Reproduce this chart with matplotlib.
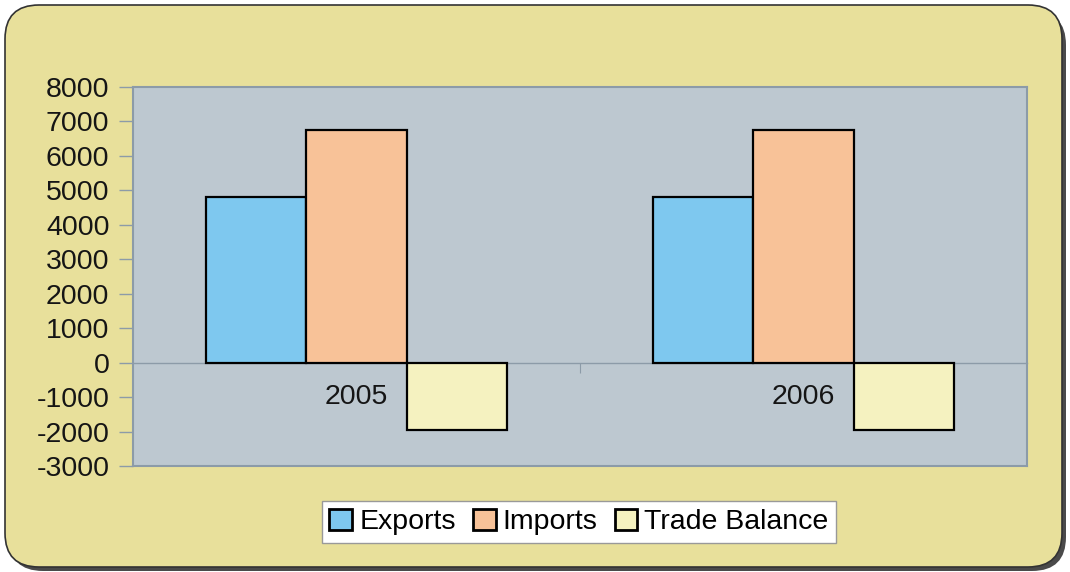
import numpy as np
import matplotlib.pyplot as plt
from matplotlib.patches import FancyBboxPatch

plt.rcParams['font.family'] = ['Liberation Sans', 'DejaVu Sans']
plt.rcParams['axes.unicode_minus'] = False

years = ['2005', '2006']
series = ['Exports', 'Imports', 'Trade Balance']
exports = [4800, 4800]
imports = [6750, 6750]
balance = [-1950, -1950]
colors = ['#7EC8EF', '#F8C298', '#F5F2C0']

fig = plt.figure(figsize=(10.7, 5.72), dpi=100)
fig.patch.set_facecolor('white')

# rounded yellow panel with a drop shadow (in inches so corners stay round)
tr = fig.dpi_scale_trans
shadow = FancyBboxPatch((0.09, 0.01), 10.57, 5.60,
                        boxstyle='round,pad=0,rounding_size=0.34',
                        transform=tr, facecolor='#4a4a4a',
                        edgecolor='none', zorder=-3)
panel = FancyBboxPatch((0.05, 0.05), 10.57, 5.62,
                       boxstyle='round,pad=0,rounding_size=0.34',
                       transform=tr, facecolor='#E8E09B',
                       edgecolor='#333333', linewidth=1.2, zorder=-2)
fig.patches.extend([shadow, panel])

ax = fig.add_axes([133 / 1070, 1 - 466 / 572, 894 / 1070, 379 / 572])
ax.set_facecolor('#BDC8D0')

x = np.arange(len(years))
w = 0.224
for i, (vals, lab) in enumerate(zip([exports, imports, balance], series)):
    ax.bar(x + (i - 1) * w, vals, w, color=colors[i], edgecolor='black',
           linewidth=1.6, label=lab, zorder=3)

ax.set_xlim(-0.5, 1.5)
ax.set_ylim(-3000, 8000)
ax.set_yticks(np.arange(-3000, 8001, 1000))
ax.tick_params(axis='y', length=10, width=1, color='#8C9BA8', pad=7,
               labelsize=20.5, labelcolor='#151515')

ax.spines['bottom'].set_position(('data', 0))
for s in ax.spines.values():
    s.set_color('#8C9BA8')
    s.set_linewidth(1.5)
ax.spines['bottom'].set_linewidth(1)
ax.set_xticks([0.5])
ax.set_xticklabels([''])
ax.tick_params(axis='x', length=7, color='#8C9BA8')
for xi, yr in zip(x, years):
    ax.text(xi, -1000, yr, ha='center', va='center', fontsize=20.5,
            color='#151515', zorder=4)

# bottom edge of the plot area (the axis line itself sits at zero)
ax.plot([0, 1], [0, 0], transform=ax.transAxes, color='#8C9BA8', lw=1.5,
        clip_on=False, zorder=5)

leg = fig.legend(loc='center', bbox_to_anchor=(579 / 1070, 1 - 522 / 572),
                 ncol=3, fontsize=20.5, frameon=True, fancybox=False,
                 framealpha=1, facecolor='white',
                 handlelength=0.8, handleheight=0.8, handletextpad=0.25,
                 columnspacing=0.6, borderpad=0.25, borderaxespad=0,
                 edgecolor='#999999')
leg.get_frame().set_linewidth(1)
for h in leg.legend_handles:
    h.set_linewidth(2)

fig.savefig('out.png', dpi=100)
